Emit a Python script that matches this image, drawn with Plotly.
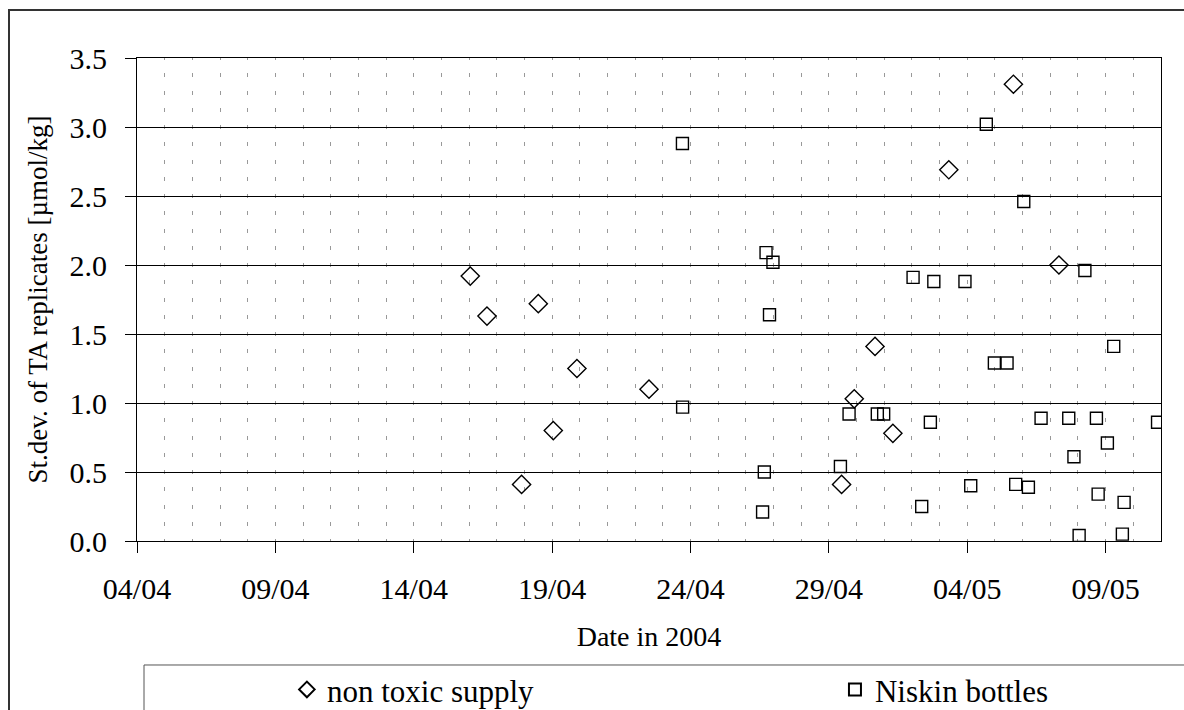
import plotly.graph_objects as go

# Non toxic supply (diamonds)
nts_dates = ["2004-04-16 01:00", "2004-04-16 15:30", "2004-04-17 21:30", "2004-04-18 12:00",
             "2004-04-19 01:00", "2004-04-19 21:30", "2004-04-22 12:00", "2004-04-29 11:00",
             "2004-04-29 22:00", "2004-04-30 16:00", "2004-05-01 07:30", "2004-05-03 08:00",
             "2004-05-05 16:00", "2004-05-07 07:30"]
nts_values = [1.92, 1.63, 0.41, 1.72, 0.80, 1.25, 1.10, 0.41, 1.03, 1.41, 0.78, 2.69, 3.31, 2.00]

# Niskin bottles (squares)
nis_dates = ["2004-04-23 17:00", "2004-04-23 17:10", "2004-04-26 14:30", "2004-04-26 16:00",
             "2004-04-26 17:30", "2004-04-26 20:30", "2004-04-26 23:30", "2004-04-29 10:00",
             "2004-04-29 17:30", "2004-04-30 18:00", "2004-04-30 23:30", "2004-05-02 01:00",
             "2004-05-02 08:30", "2004-05-02 16:00", "2004-05-02 19:00", "2004-05-03 22:00",
             "2004-05-04 03:00", "2004-05-04 16:30", "2004-05-04 23:30", "2004-05-05 10:30",
             "2004-05-05 18:00", "2004-05-06 01:00", "2004-05-06 05:00", "2004-05-06 16:00",
             "2004-05-07 16:00", "2004-05-07 20:30", "2004-05-08 01:00", "2004-05-08 06:00",
             "2004-05-08 16:00", "2004-05-08 17:30", "2004-05-09 01:30", "2004-05-09 07:00",
             "2004-05-09 14:30", "2004-05-09 16:00", "2004-05-10 21:00"]
nis_values = [2.88, 0.97, 0.21, 0.50, 2.09, 1.64, 2.02, 0.54,
              0.92, 0.92, 0.92, 1.91, 0.25, 0.86, 1.88, 1.88,
              0.40, 3.02, 1.29, 1.29, 0.41, 2.46, 0.39, 0.89,
              0.89, 0.61, 0.04, 1.96, 0.89, 0.34, 0.71, 1.41,
              0.05, 0.28, 0.86]

x_range = ["2004-04-04", "2004-05-11"]
y_ticks = [0.0, 0.5, 1.0, 1.5, 2.0, 2.5, 3.0, 3.5]

FONT = "Liberation Serif"
GRID_DASH = "2px,13.25px,2px,0px"

fig = go.Figure()
fig.add_trace(go.Scatter(
    x=nts_dates, y=nts_values, mode="markers", name="non toxic supply", legend="legend",
    marker=dict(symbol="diamond-open", size=14, color="black", line=dict(width=1.4, color="black")),
))
fig.add_trace(go.Scatter(
    x=nis_dates, y=nis_values, mode="markers", name="Niskin bottles", legend="legend2",
    marker=dict(symbol="square-open", size=12, color="black", line=dict(width=1.4, color="black")),
))

legend_common = dict(
    orientation="h", yanchor="middle", xanchor="left",
    font=dict(family=FONT, size=31, color="black"),
    bgcolor="rgba(0,0,0,0)", borderwidth=0, itemsizing="constant",
)

fig.update_layout(
    width=1184, height=710,
    margin=dict(l=137, r=23, t=58, b=169, autoexpand=False),
    paper_bgcolor="white", plot_bgcolor="white",
    font=dict(family=FONT, size=28, color="black"),
    showlegend=True,
    legend=dict(x=0.1464, y=-0.308, **legend_common),
    legend2=dict(x=0.6816, y=-0.308, **legend_common),
    xaxis=dict(
        type="date", range=x_range, dtick=5 * 86400000, tick0="2004-04-04",
        tickformat="%d/%m", ticks="outside", ticklen=11, tickcolor="black", tickwidth=1,
        showline=True, linecolor="black", linewidth=1, mirror=True,
        showgrid=True, gridcolor="#999999", gridwidth=1, griddash=GRID_DASH,
        minor=dict(dtick=86400000, tick0="2004-04-04", showgrid=True, gridcolor="#999999",
                   gridwidth=1, griddash=GRID_DASH, ticks=""),
        title=dict(text="Date in 2004", standoff=22, font=dict(size=28)),
        tickfont=dict(size=30), ticklabelstandoff=10, zeroline=False, automargin=False,
    ),
    yaxis=dict(
        range=[0, 3.5], tickvals=y_ticks, tickformat=".1f",
        ticks="outside", ticklen=11, tickcolor="black", tickwidth=1,
        showline=True, linecolor="black", linewidth=1, mirror=True,
        showgrid=True, gridcolor="black", gridwidth=1, zeroline=False,
        title=dict(text="St.dev. of TA replicates [µmol/kg]", standoff=14, font=dict(size=27)),
        tickfont=dict(size=30), ticklabelstandoff=12, automargin=False,
    ),
    shapes=[
        dict(type="rect", xref="paper", yref="paper", x0=-0.125, x1=1.2, y0=-0.6, y1=1.0994,
             line=dict(color="#333333", width=2), fillcolor="rgba(0,0,0,0)", layer="below"),
        dict(type="rect", xref="paper", yref="paper", x0=0.00684, x1=1.2, y0=-0.6, y1=-0.2567,
             line=dict(color="#555555", width=1), fillcolor="rgba(0,0,0,0)", layer="below"),
    ],
)

fig.write_html("out.html", config={"displayModeBar": False},
               post_script="document.body.style.margin='0';")
